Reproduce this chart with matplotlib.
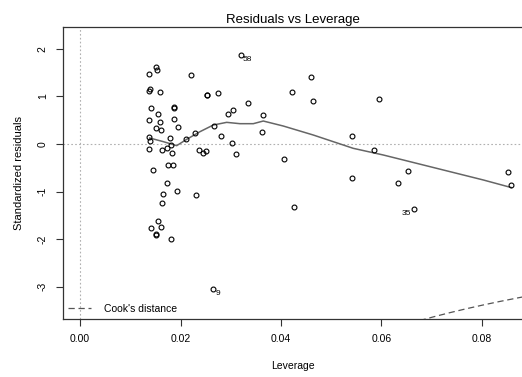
import matplotlib
matplotlib.use("Agg")
import matplotlib.pyplot as plt
import numpy as np

plt.rcParams['font.family'] = ['Liberation Sans', 'DejaVu Sans']

# leverage / standardized residuals
leverage = [
    0.01373, 0.01506, 0.01539, 0.01373, 0.01393, 0.01585, 0.01413, 0.01559,
    0.01373, 0.01599, 0.01512, 0.01605, 0.01373, 0.01386, 0.01373, 0.01625,
    0.01453, 0.01877, 0.01877, 0.01877, 0.01944, 0.01791, 0.01811, 0.01738,
    0.01838, 0.01751, 0.01857, 0.01725, 0.01924, 0.01645, 0.01625, 0.01559,
    0.01406, 0.01605, 0.01512, 0.01512, 0.01811, 0.02216, 0.02521, 0.02521,
    0.02753, 0.02110, 0.02289, 0.02667, 0.02813, 0.02945, 0.03045, 0.02368,
    0.02454, 0.02501, 0.03025, 0.03111, 0.02302, 0.03197, 0.03343, 0.03642,
    0.03622, 0.02640, 0.04066, 0.04219, 0.04252, 0.04597, 0.04643, 0.05406,
    0.05406, 0.05851, 0.05957, 0.06322, 0.06534, 0.06640, 0.08530, 0.08590,
]
std_resid = [
    1.47, 1.62, 1.55, 1.12, 1.16, 1.085, 0.75, 0.64,
    0.50, 0.46, 0.34, 0.29, 0.147, 0.056, -0.105, -0.126,
    -0.553, 0.763, 0.78, 0.525, 0.364, 0.126, -0.02, -0.077,
    -0.196, -0.434, -0.434, -0.819, -0.98, -1.043, -1.246, -1.61,
    -1.765, -1.744, -1.898, -1.91, -2.003, 1.443, 1.022, 1.04,
    1.064, 0.098, 0.231, 0.385, 0.168, 0.637, 0.707, -0.126,
    -0.196, -0.147, 0.028, -0.217, -1.071, 1.870, 0.861, 0.616,
    0.259, -3.04, -0.308, 1.085, -1.317, 1.40, 0.91, 0.168,
    -0.707, -0.126, 0.952, -0.819, -0.574, -1.359, -0.595, -0.861,
]

# labelled observations: (label, leverage, residual)
flagged = [("58", 0.03197, 1.870), ("9", 0.02640, -3.04), ("35", 0.06640, -1.359)]

# smoother
smooth_x = [0.01386, 0.01658, 0.01924, 0.02123, 0.02388, 0.02653, 0.02919,
            0.03184, 0.03449, 0.03648, 0.04046, 0.04643, 0.05439, 0.06036,
            0.06700, 0.07363, 0.08027, 0.08590]
smooth_y = [0.126, 0.049, -0.035, 0.098, 0.259, 0.399, 0.455,
            0.427, 0.427, 0.483, 0.378, 0.189, -0.091, -0.231,
            -0.406, -0.581, -0.756, -0.917]

n_params = 2
cook_level = 0.5

fig = plt.figure(figsize=(5.22, 3.77), dpi=100)
ax = fig.add_axes([63 / 522, 58 / 377, 459 / 522, 292 / 377])

ax.axhline(0, color="#b0b0b0", ls=(0, (1.5, 2)), lw=0.8, zorder=1)
ax.axvline(0, color="#b0b0b0", ls=(0, (1.5, 2)), lw=0.8, zorder=1)

ax.plot(leverage, std_resid, "o", ms=3.5, mfc="none", mec="black", mew=0.8, zorder=3)
ax.plot(smooth_x, smooth_y, color="#666666", lw=1.1, zorder=2)

h = np.linspace(0.06, 0.095, 200)
cook = -np.sqrt(cook_level * n_params * (1 - h) / h)
ax.plot(h, cook, color="#555555", ls=(0, (5, 3)), lw=0.9, label="Cook's distance")

for lab, x, y in flagged:
    if lab == "35":
        ax.text(x - 0.0005, y - 0.03, lab, fontsize=6, ha="right", va="top")
    else:
        ax.text(x + 0.0005, y - 0.03, lab, fontsize=6, ha="left", va="top")

ax.set_xlim(-0.0034, 0.0880)
ax.set_ylim(-3.68, 2.46)
ax.set_xticks([0.00, 0.02, 0.04, 0.06, 0.08])
ax.set_xticklabels(["0.00", "0.02", "0.04", "0.06", "0.08"])
ax.set_yticks([-3, -2, -1, 0, 1, 2])
ax.set_yticklabels(["-3", "-2", "-1", "0", "1", "2"], rotation=90, va="center")
ax.tick_params(labelsize=7.5, length=5, width=0.8, color="#333333", pad=6)
ax.spines["right"].set_visible(False)
for s in ["left", "bottom", "top"]:
    ax.spines[s].set_color("#333333")
    ax.spines[s].set_linewidth(0.9)

ax.set_xlabel("Leverage", fontsize=7.5, labelpad=12)
ax.set_ylabel("Standardized residuals", fontsize=8, labelpad=10)
ax.set_title("Residuals vs Leverage", fontsize=9.5, pad=3)

ax.legend(loc="lower left", frameon=False, fontsize=7.5, handlelength=2.2,
          borderaxespad=0.1, handletextpad=1.2)

fig.savefig("out.png", dpi=100)
